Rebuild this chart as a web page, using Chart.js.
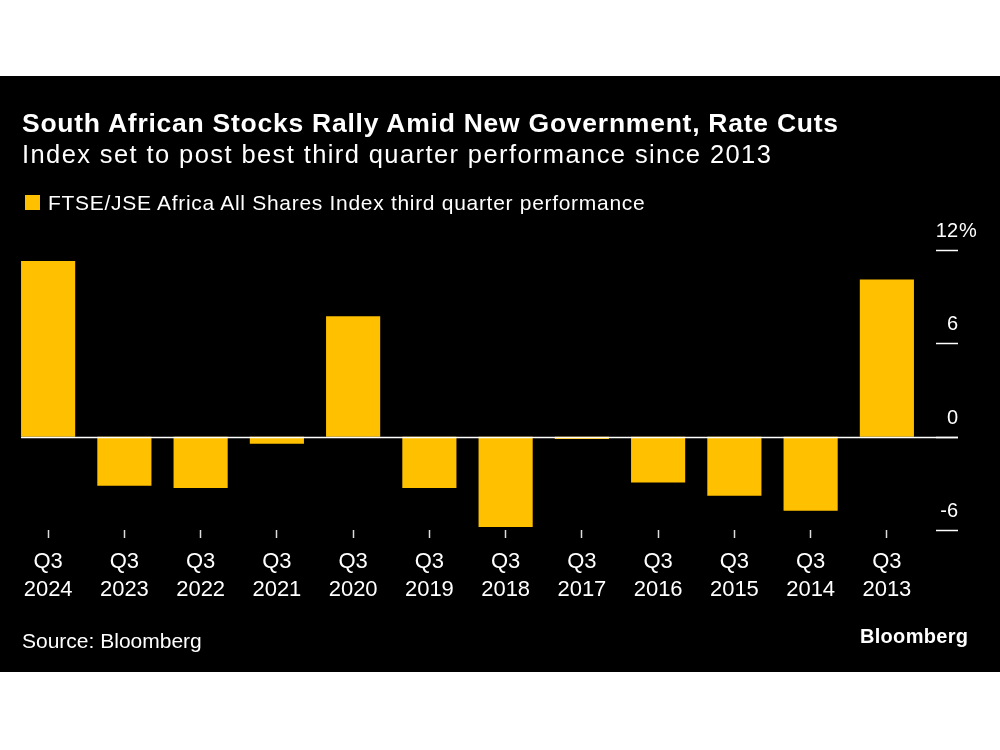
<!DOCTYPE html>
<html><head><meta charset="utf-8">
<script src="https://cdn.jsdelivr.net/npm/chart.js@4"></script>
<style>
html,body{margin:0;padding:0;background:#fff;}
#wrap{position:relative;width:1000px;height:750px;overflow:hidden;background:#fff;font-family:"Liberation Sans",Arial,sans-serif;}
#panel{position:absolute;left:0;top:76px;width:1000px;height:596px;background:#000;}
canvas{position:absolute;left:0;top:0;}
.t{position:absolute;color:#fff;white-space:nowrap;line-height:1;}
#sw{position:absolute;left:25px;top:195px;width:15px;height:15px;background:#FFC000;}
</style></head>
<body><div id="wrap"><div id="panel"></div>
<canvas id="c" width="1000" height="750"></canvas>
<div class="t" style="left:22px;top:110px;font-size:26.5px;font-weight:bold;letter-spacing:0.75px;">South African Stocks Rally Amid New Government, Rate Cuts</div>
<div class="t" style="left:22px;top:142px;font-size:25.5px;letter-spacing:1.4px;">Index set to post best third quarter performance since 2013</div>
<div id="sw"></div>
<div class="t" style="left:48px;top:192px;font-size:21px;letter-spacing:0.7px;">FTSE/JSE Africa All Shares Index third quarter performance</div>
<div class="t" style="left:22px;top:630px;font-size:21px;">Source: Bloomberg</div>
<div class="t" style="left:860px;top:626px;font-size:20px;font-weight:bold;letter-spacing:0.3px;">Bloomberg</div>
</div>
<script>
const quarters = ['Q3','Q3','Q3','Q3','Q3','Q3','Q3','Q3','Q3','Q3','Q3','Q3'];
const years = ['2024','2023','2022','2021','2020','2019','2018','2017','2016','2015','2014','2013'];
const values = [11.3, -3.15, -3.3, -0.45, 7.74, -3.3, -5.8, -0.15, -2.94, -3.8, -4.76, 10.1];
const yTicks = [-6, 0, 6, 12];
const yTickLabels = ['-6', '0', '6', '12'];

const FONT = '"Liberation Sans", Arial, sans-serif';
const YELLOW = '#FFC000';

const overlay = {
  id: 'overlay',
  afterDatasetsDraw(chart) {
    const ctx = chart.ctx;
    const y = chart.scales.y;
    const meta = chart.getDatasetMeta(0);
    const first = meta.data[0];
    const x0 = first.x - first.width / 2;
    ctx.save();
    ctx.strokeStyle = '#fff';
    ctx.lineWidth = 1.5;
    const yz = Math.round(y.getPixelForValue(0)) + 0.5;
    ctx.beginPath();
    ctx.moveTo(x0, yz);
    ctx.lineTo(958, yz);
    ctx.stroke();
    ctx.fillStyle = '#fff';
    ctx.font = '20px ' + FONT;
    ctx.textBaseline = 'alphabetic';
    y.ticks.forEach((t) => {
      const py = Math.round(y.getPixelForValue(t.value)) + 0.5;
      ctx.beginPath();
      ctx.moveTo(936, py);
      ctx.lineTo(958, py);
      ctx.stroke();
      const lbl = yTickLabels[yTicks.indexOf(t.value)];
      ctx.textAlign = 'right';
      ctx.fillText(lbl, 958, py - 14);
      if (t.value === 12) {
        ctx.textAlign = 'left';
        ctx.fillText('%', 959, py - 14);
      }
    });
    ctx.restore();
  }
};

new Chart(document.getElementById('c'), {
  type: 'bar',
  data: {
    labels: quarters.map((q, i) => [q, years[i]]),
    datasets: [{
      label: 'FTSE/JSE Africa All Shares Index third quarter performance',
      data: values,
      backgroundColor: YELLOW,
      borderWidth: 0,
      barPercentage: 0.71,
      categoryPercentage: 1
    }]
  },
  options: {
    responsive: false,
    animation: false,
    layout: { padding: { top: 250, left: 10, right: 0, bottom: 0 } },
    plugins: { legend: { display: false }, tooltip: { enabled: false } },
    scales: {
      x: {
        grid: { display: true, drawOnChartArea: false, offset: false, tickLength: 8, tickColor: '#ddd', tickWidth: 1.5 },
        border: { display: false },
        ticks: { color: '#fff', font: { size: 22, family: FONT, lineHeight: 1.27 }, padding: 10, maxRotation: 0, autoSkip: false },
        afterFit(s) { s.height = 220; }
      },
      y: {
        position: 'right',
        min: -6, max: 12,
        grid: { display: false },
        border: { display: false },
        ticks: { display: false },
        afterBuildTicks(s) { s.ticks = yTicks.map(v => ({ value: v })); },
        afterFit(s) { s.width = 75; }
      }
    }
  },
  plugins: [overlay]
});
</script>
</body></html>
